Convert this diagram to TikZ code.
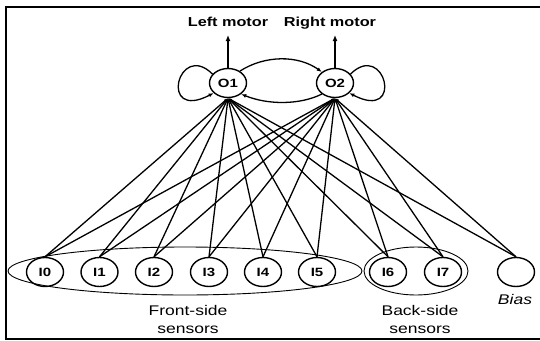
\documentclass[tikz,border=0pt]{standalone}
\usepackage{fontspec}
\setmainfont{Liberation Sans}[FakeStretch=1.25]
\usetikzlibrary{arrows.meta,shapes.geometric}

\begin{document}
\begin{tikzpicture}[x=1pt,y=-1pt,
  neuron/.style={ellipse,draw,line width=1.4pt,minimum width=37pt,
    minimum height=29pt,inner sep=0pt,font=\fontsize{12}{13}\selectfont\bfseries},
  lbl/.style={font=\fontsize{14}{18}\selectfont,align=center,inner sep=0pt},
  toplbl/.style={font=\fontsize{13}{15}\selectfont\bfseries,inner sep=0pt},
  weight/.style={line width=1.3pt,-{Latex[length=4pt,width=3pt]}},
  recur/.style={line width=1.3pt,-{Latex[length=5pt,width=4pt]}},
  motor/.style={line width=2pt,-{Latex[length=6pt,width=5pt]}},
  group/.style={ellipse,draw,line width=0.9pt,inner sep=0pt},
  frame/.style={line width=1.4pt}]
\useasboundingbox (0,0) rectangle (540,340);

% frame
\draw[frame] (540,7) -- (6,7) -- (6,339) -- (540,339);

% sensor groups
\node[group,minimum width=354pt,minimum height=48pt] (front) at (185,271) {};
\node[group,minimum width=104pt,minimum height=48pt] (back) at (416,271) {};

% output neurons
\node[neuron] (O1) at (228,83) {O1};
\node[neuron] (O2) at (335,83) {O2};

% input neurons
\foreach \name/\x in {I0/45,I1/99.5,I2/154,I3/209,I4/263,I5/317,I6/388,I7/443}
  \node[neuron] (\name) at (\x,272) {\name};
\node[neuron] (bias) at (516,272) {};

% labels
\node[toplbl,anchor=base] (lm) at (228,26) {Left motor};
\node[toplbl,anchor=base] (rm) at (330,26) {Right motor};
\node[lbl] (fs) at (188,319) {Front-side\\sensors};
\node[lbl] (bs) at (420,319) {Back-side\\sensors};
\node[lbl,font=\fontsize{14}{18}\selectfont\itshape] (bl) at (515,299) {Bias};

% motor outputs
\coordinate (ltip) at (228,35);
\coordinate (rtip) at (335,35);
\draw[motor] (O1.north) -- (ltip);
\draw[motor] (O2.north) -- (rtip);

% weights from every input to both outputs
\foreach \name in {I0,I1,I2,I3,I4,I5,I6,I7,bias}{
  \draw[weight] (\name.north) -- (O1.south);
  \draw[weight] (\name.north) -- (O2.south);
}

% recurrent connections
\draw[recur] (O1.150) .. controls (178,40) and (158,122) .. (O1.215);
\draw[recur] (O2.30) .. controls (385,40) and (405,122) .. (O2.325);
\draw[recur] (O1.45) .. controls (265,55) and (298,55) .. (O2.140);
\draw[recur] (O2.220) .. controls (300,105) and (268,105) .. (O1.-40);
\end{tikzpicture}
\end{document}
